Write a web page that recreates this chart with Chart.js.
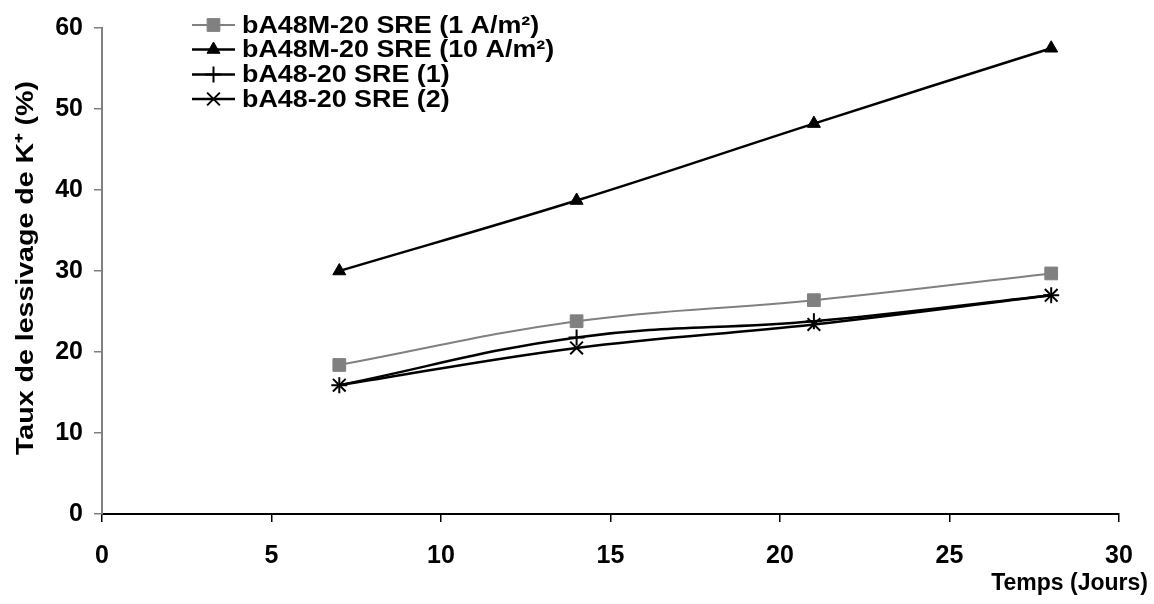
<!DOCTYPE html>
<html>
<head>
<meta charset="utf-8">
<script src="https://cdn.jsdelivr.net/npm/chart.js@4"></script>
<style>
  html, body { margin: 0; padding: 0; background: #fff; }
  #wrap { width: 1154px; height: 604px; }
</style>
</head>
<body>
<div id="wrap"><canvas id="leachChart" width="1154" height="604"></canvas></div>
<script>
// temps (jours)
const days = [7, 14, 21, 28];

const seriesNames = [
  'bA48M-20 SRE (1 A/m\u00b2)',
  'bA48M-20 SRE (10 A/m\u00b2)',
  'bA48-20 SRE (1)',
  'bA48-20 SRE (2)'
];

// taux de lessivage de K+ (%)
const sre1A = [18.4, 23.8, 26.4, 29.7];
const sre10A = [30.0, 38.7, 48.2, 57.5];
const ref1 = [15.9, 21.8, 23.8, 27.0];
const ref2 = [15.9, 20.5, 23.4, 27.0];

const xTicks = [0, 5, 10, 15, 20, 25, 30];
const yTicks = [0, 10, 20, 30, 40, 50, 60];

const FONT = '"Liberation Sans", Arial, sans-serif';

function pts(vals) {
  return days.map((d, i) => ({ x: d, y: vals[i] }));
}

function stretchText(ctx, txt, x, y, sx) {
  ctx.save();
  ctx.translate(x, y);
  ctx.scale(sx, 1);
  ctx.fillText(txt, 0, 0);
  ctx.restore();
}

// legend drawn like the excel one: line + marker, then label
const legendPlugin = {
  id: 'excelLegend',
  afterDraw(chart) {
    const ctx = chart.ctx;
    const rows = [25, 49.5, 74.5, 99];
    chart.data.datasets.forEach((ds, i) => {
      const y = rows[i];
      ctx.save();
      ctx.strokeStyle = ds.borderColor;
      ctx.lineWidth = ds.borderWidth;
      ctx.beginPath();
      ctx.moveTo(192, y);
      ctx.lineTo(235, y);
      ctx.stroke();
      ctx.fillStyle = ds.pointBackgroundColor;
      ctx.strokeStyle = ds.pointBorderColor;
      ctx.lineWidth = ds.pointBorderWidth;
      Chart.helpers.drawPoint(ctx, {
        pointStyle: ds.pointStyle,
        radius: ds.pointRadius,
        rotation: 0,
        borderWidth: ds.pointBorderWidth
      }, 213.5, y);
      ctx.fillStyle = '#000';
      ctx.font = 'bold 24px ' + FONT;
      ctx.textAlign = 'left';
      ctx.textBaseline = 'middle';
      stretchText(ctx, ds.label, 242, y + 1, 1.12);
      ctx.restore();
    });
  }
};

const titlesPlugin = {
  id: 'axisTitles',
  afterDraw(chart) {
    const ctx = chart.ctx;
    const area = chart.chartArea;
    ctx.save();
    ctx.fillStyle = '#000';
    ctx.font = 'bold 23px ' + FONT;
    ctx.textBaseline = 'middle';
    ctx.textAlign = 'right';
    ctx.fillText('Temps (Jours)', 1148, 584);
    ctx.font = 'bold 24px ' + FONT;
    ctx.translate(26, 268);
    ctx.rotate(-Math.PI / 2);
    ctx.textAlign = 'center';
    ctx.scale(1.19, 1);
    ctx.fillText('Taux de lessivage de K\u207a (%)', 0, 0);
    ctx.restore();
  }
};

new Chart(document.getElementById('leachChart'), {
  type: 'line',
  data: {
    datasets: [
      {
        label: seriesNames[0],
        data: pts(sre1A),
        borderColor: '#808080',
        borderWidth: 2,
        pointStyle: 'rect',
        pointRadius: 9,
        pointBackgroundColor: '#808080',
        pointBorderColor: '#808080',
        pointBorderWidth: 1,
        tension: 0.4
      },
      {
        label: seriesNames[1],
        data: pts(sre10A),
        borderColor: '#000',
        borderWidth: 2.5,
        pointStyle: 'triangle',
        pointRadius: 7.5,
        pointBackgroundColor: '#000',
        pointBorderColor: '#000',
        pointBorderWidth: 1,
        tension: 0.4
      },
      {
        label: seriesNames[2],
        data: pts(ref1),
        borderColor: '#000',
        borderWidth: 2.5,
        pointStyle: 'cross',
        pointRadius: 8,
        pointBackgroundColor: '#000',
        pointBorderColor: '#000',
        pointBorderWidth: 2,
        tension: 0.4
      },
      {
        label: seriesNames[3],
        data: pts(ref2),
        borderColor: '#000',
        borderWidth: 2.5,
        pointStyle: 'crossRot',
        pointRadius: 9,
        pointBackgroundColor: '#000',
        pointBorderColor: '#000',
        pointBorderWidth: 2,
        tension: 0.4
      }
    ]
  },
  options: {
    responsive: false,
    animation: false,
    layout: { padding: { left: 0, top: 28, right: 35, bottom: 0 } },
    plugins: {
      legend: { display: false },
      tooltip: { enabled: false }
    },
    elements: { point: { hoverRadius: 9 } },
    scales: {
      x: {
        type: 'linear',
        min: 0,
        max: 30,
        afterFit(scale) { scale.height = 90; },
        afterBuildTicks(scale) { scale.ticks = xTicks.map(v => ({ value: v })); },
        border: { color: '#000', width: 2 },
        grid: {
          drawOnChartArea: false,
          drawTicks: true,
          tickLength: 8,
          color: '#000',
          lineWidth: 1.5
        },
        ticks: {
          color: '#000',
          padding: 19,
          maxRotation: 0,
          font: { family: FONT, size: 25, weight: 'bold' }
        }
      },
      y: {
        min: 0,
        max: 60,
        afterFit(scale) { scale.width = 102; },
        afterBuildTicks(scale) { scale.ticks = yTicks.map(v => ({ value: v })); },
        border: { color: '#808080', width: 2 },
        grid: {
          drawOnChartArea: false,
          drawTicks: true,
          tickLength: 8,
          color: '#808080',
          lineWidth: 1.5
        },
        ticks: {
          color: '#000',
          padding: 11,
          font: { family: FONT, size: 25, weight: 'bold' }
        }
      }
    }
  },
  plugins: [legendPlugin, titlesPlugin]
});
</script>
</body>
</html>
